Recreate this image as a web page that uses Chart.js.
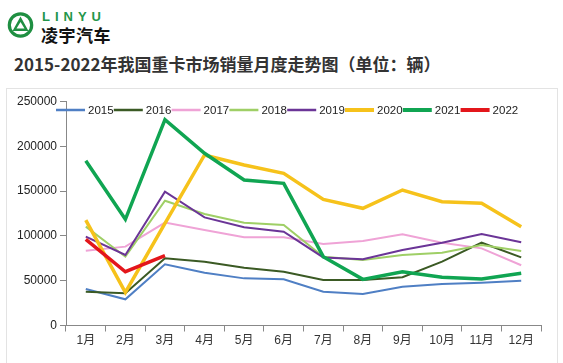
<!DOCTYPE html>
<html>
<head>
<meta charset="utf-8">
<script src="https://cdn.jsdelivr.net/npm/chart.js@4"></script>
<style>
  body { margin: 0; background: #fff; width: 563px; height: 363px; overflow: hidden; position: relative; font-family: "Noto Sans CJK SC", sans-serif; }
  #box { position: absolute; left: 6px; top: 88px; width: 550px; height: 300px; border: 1px solid #e3e3e3; }
  #chart { position: absolute; left: 0; top: 0; }
  #logo { position: absolute; left: 7px; top: 11px; }
  #brand-en { position: absolute; left: 42px; top: 9px; font: bold 13px "Liberation Sans", sans-serif; color: #23964a; letter-spacing: 5px; }
  #brand-cn { position: absolute; left: 41px; top: 22px; font-weight: bold; font-size: 17px; color: #111; letter-spacing: 0.5px; }
  #title { position: absolute; left: 14px; top: 51px; font-weight: bold; font-size: 17px; color: #333; white-space: nowrap; }
</style>
</head>
<body>
<svg id="logo" width="30" height="30" viewBox="0 0 30 30">
  <circle cx="13.5" cy="14" r="11.2" fill="none" stroke="#1f8f42" stroke-width="3.2"/>
  <path d="M13.5 5.5 L21.5 20 L5.5 20 Z M13.5 11 L17.5 17.5 L9.5 17.5 Z" fill="#1f8f42" fill-rule="evenodd"/>
</svg>
<div id="brand-en">LINYU</div>
<div id="brand-cn">凌宇汽车</div>
<div id="title">2015-2022年我国重卡市场销量月度走势图（单位：辆）</div>
<div id="box"></div>
<canvas id="chart" width="563" height="363"></canvas>

<script>
// months and years
const months = ['1月', '2月', '3月', '4月', '5月', '6月', '7月', '8月', '9月', '10月', '11月', '12月'];
const years = ['2015', '2016', '2017', '2018', '2019', '2020', '2021', '2022'];
const yTicks = [0, 50000, 100000, 150000, 200000, 250000];

// monthly sales
const sales2015 = [40700, 29200, 68300, 58900, 52600, 51500, 37700, 35200, 43300, 46300, 47800, 50000];
const sales2016 = [37700, 35900, 75000, 71200, 64500, 60000, 50800, 50800, 53800, 71200, 92400, 76100];
const sales2017 = [83500, 88000, 114800, 106600, 98400, 98400, 91000, 94300, 101700, 92400, 86100, 67200];
const sales2018 = [110300, 76800, 139300, 124400, 114800, 112200, 76800, 73100, 78700, 81300, 89800, 83100];
const sales2019 = [99100, 78700, 149300, 120700, 109600, 104700, 76000, 73900, 84300, 92400, 102100, 92800];
const sales2020 = [117700, 37000, 114000, 190300, 179100, 169800, 140800, 130800, 151200, 138200, 136400, 110300];
const sales2021 = [183900, 118500, 229800, 192200, 162400, 158700, 76800, 51500, 60000, 53800, 51900, 58200];
const sales2022 = [96200, 60000, 77900];

const allSales = [sales2015, sales2016, sales2017, sales2018, sales2019, sales2020, sales2021, sales2022];
const colors = ['#4f7fc4', '#3b5a24', '#efa3d6', '#9fcf66', '#6b3597', '#f6c21b', '#10a552', '#e3161b'];
const widths = [2, 2, 2, 2, 2, 3.5, 3.5, 3.5];

// legend drawn over the plot, like the original
const legendInside = {
  id: 'legendInside',
  afterDraw(chart) {
    const ctx = chart.ctx;
    ctx.save();
    ctx.font = '11.5px "Liberation Sans", sans-serif';
    ctx.textBaseline = 'middle';
    chart.data.datasets.forEach((ds, i) => {
      const x = 56 + i * 57.8, y = 110;
      ctx.strokeStyle = ds.borderColor;
      ctx.lineWidth = i >= 5 ? 4 : 2.5;
      ctx.beginPath();
      ctx.moveTo(x, y);
      ctx.lineTo(x + 29, y);
      ctx.stroke();
      ctx.fillStyle = '#222';
      ctx.fillText(ds.label, x + 32, y + 1);
    });
    ctx.restore();
  }
};

new Chart(document.getElementById('chart'), {
  type: 'line',
  data: {
    labels: months,
    datasets: years.map((y, i) => ({
      label: y,
      data: allSales[i],
      borderColor: colors[i],
      backgroundColor: colors[i],
      borderWidth: widths[i],
      pointRadius: 0,
      tension: 0,
      fill: false,
      order: years.length - i
    }))
  },
  options: {
    responsive: false,
    animation: false,
    layout: { padding: { left: 0, top: 101.5, right: 22, bottom: 0 } },
    plugins: { legend: { display: false }, tooltip: { enabled: false } },
    scales: {
      x: {
        offset: true,
        afterFit(scale) { scale.height = 37.5; },
        grid: { offset: true, drawOnChartArea: false, tickLength: 6, color: '#888' },
        border: { color: '#888' },
        ticks: { color: '#333', padding: 2, font: { size: 12, family: '"Liberation Sans", "Noto Sans CJK SC", sans-serif' } }
      },
      y: {
        min: 0,
        max: 250000,
        afterFit(scale) { scale.width = 66; },
        afterBuildTicks(scale) { scale.ticks = yTicks.map(v => ({ value: v })); },
        grid: { drawOnChartArea: false, tickLength: 6, color: '#888' },
        border: { color: '#888' },
        ticks: { color: '#222', padding: 3, font: { size: 12, family: '"Liberation Sans", sans-serif' }, callback: v => String(v) }
      }
    }
  },
  plugins: [legendInside]
});
</script>
</body>
</html>
